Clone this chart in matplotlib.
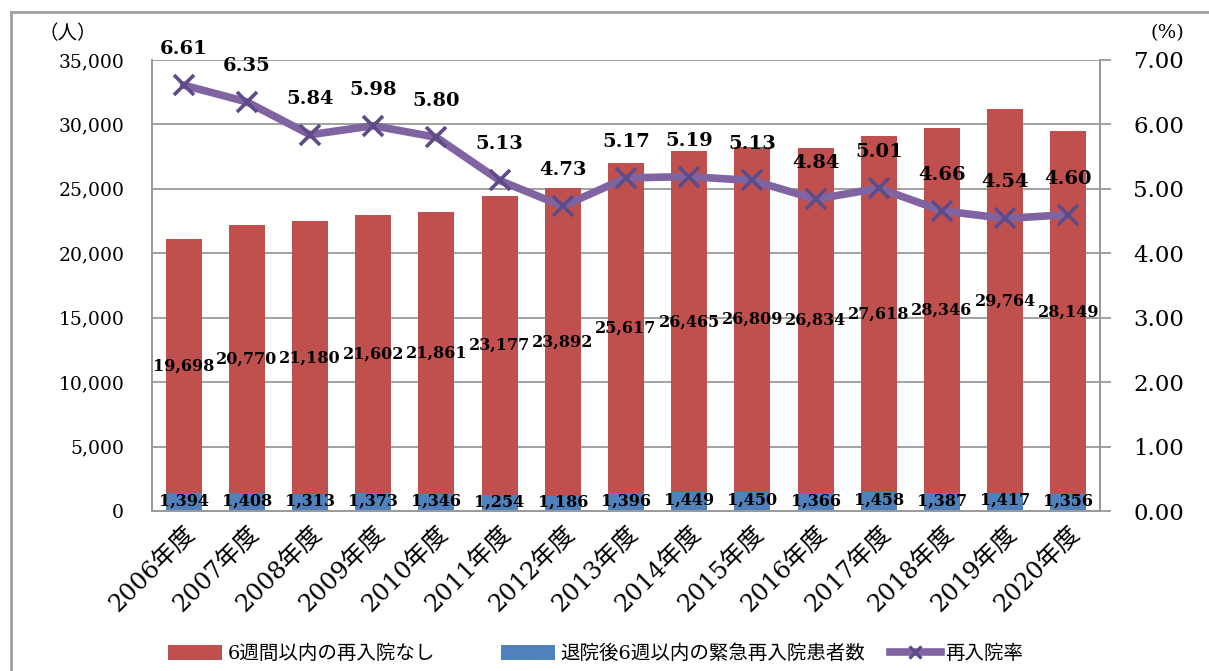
import matplotlib
matplotlib.use("Agg")
import matplotlib.pyplot as plt
from matplotlib.lines import Line2D
from matplotlib.patches import Patch
import numpy as np

years = ["2006年度", "2007年度", "2008年度", "2009年度", "2010年度", "2011年度", "2012年度",
         "2013年度", "2014年度", "2015年度", "2016年度", "2017年度", "2018年度", "2019年度", "2020年度"]
no_readmit = [19698, 20770, 21180, 21602, 21861, 23177, 23892, 25617, 26465, 26809,
              26834, 27618, 28346, 29764, 28149]
emergency = [1394, 1408, 1313, 1373, 1346, 1254, 1186, 1396, 1449, 1450,
             1366, 1458, 1387, 1417, 1356]
rate = [6.61, 6.35, 5.84, 5.98, 5.80, 5.13, 4.73, 5.17, 5.19, 5.13, 4.84, 5.01, 4.66, 4.54, 4.60]

left_ticks = [0, 5000, 10000, 15000, 20000, 25000, 30000, 35000]
right_ticks = [0, 1, 2, 3, 4, 5, 6, 7]

legend_labels = ["6週間以内の再入院なし", "退院後6週以内の緊急再入院患者数", "再入院率"]

RED = "#C0504D"
BLUE = "#4F81BD"
PURPLE = "#8064A2"
MARK = "#5E4B87"
GRID = "#9A9A9A"
SERIF = ["DejaVu Serif", "Noto Sans CJK JP"]
JP = ["Noto Sans CJK JP", "DejaVu Serif"]

W, H = 1209, 671
fig = plt.figure(figsize=(W / 100, H / 100), dpi=100)
ax = fig.add_axes([152 / W, 1 - 511 / H, (1100 - 152) / W, (511 - 60) / H])
ax2 = ax.twinx()

x = np.arange(len(years))
bw = 0.57
ax.bar(x, emergency, width=bw, color=BLUE, zorder=2)
ax.bar(x, no_readmit, width=bw, bottom=emergency, color=RED, zorder=2)

ax.set_xlim(-0.5, len(years) - 0.5)
ax.set_ylim(0, 35000)
ax.set_yticks(left_ticks)
ax.set_yticklabels([f"{v:,}" for v in left_ticks], family=SERIF, fontsize=13.5)
ax.yaxis.grid(True, color=GRID, linewidth=1.3, zorder=0)
ax.set_axisbelow(True)
ax.tick_params(axis="y", length=0, pad=20)
ax.set_xticks(x)
ax.set_xticklabels(years, rotation=45, ha="right", va="top", rotation_mode="anchor",
                   family=SERIF, fontsize=17.5)
ax.tick_params(axis="x", length=0, pad=8)

for sp in ["left", "right", "bottom", "top"]:
    ax.spines[sp].set_color(GRID)
    ax.spines[sp].set_linewidth(1.3)
    ax2.spines[sp].set_color(GRID)
    ax2.spines[sp].set_linewidth(1.3)
ax.spines["top"].set_visible(False)
ax2.spines["top"].set_visible(False)

ax2.plot(x, rate, color=PURPLE, linewidth=5.5, solid_capstyle="round", zorder=3)
ax2.plot(x, rate, linestyle="none", marker="x", markersize=15, markeredgewidth=2.6,
         color=MARK, zorder=4)
ax2.set_ylim(0, 7)
ax2.set_yticks(right_ticks)
ax2.set_yticklabels([f"{v:.2f}" for v in right_ticks], family=SERIF, fontsize=16.5)
ax2.tick_params(axis="y", length=8, width=1.3, color=GRID, pad=16)

# data labels
for i in range(len(years)):
    ax2.annotate(f"{rate[i]:.2f}", (x[i], rate[i]), xytext=(0, 26), textcoords="offset points",
                 ha="center", va="center", fontsize=14, fontweight="bold", family=SERIF, zorder=6)
    ax2.text(x[i], emergency[i] / 2 + 100, f"{emergency[i]:,}", transform=ax.transData,
             ha="center", va="center", fontsize=11.5, fontweight="bold", family=SERIF, zorder=6)
    ax2.text(x[i], emergency[i] + no_readmit[i] / 2, f"{no_readmit[i]:,}", transform=ax.transData,
             ha="center", va="center", fontsize=11.5, fontweight="bold", family=SERIF, zorder=6)

# unit labels
fig.text(38 / W, 1 - 34 / H, "（人）", family=JP, fontsize=14, ha="left", va="center")
fig.text(1150 / W, 1 - 33 / H, "(%)", family=SERIF, fontsize=14, ha="left", va="center")

# outer border (left and top only visible)
fig.add_artist(Line2D([11 / W, 11 / W], [0, 1 - 12 / H], transform=fig.transFigure,
                      color="#A0A0A0", linewidth=2))
fig.add_artist(Line2D([11 / W, 1], [1 - 12 / H, 1 - 12 / H], transform=fig.transFigure,
                      color="#A0A0A0", linewidth=2))

# legends
handles = [Patch(facecolor=RED, edgecolor="none"),
           Patch(facecolor=BLUE, edgecolor="none"),
           Line2D([], [], color=PURPLE, linewidth=5.5, marker="x", markersize=9,
                  markeredgewidth=2.4, markeredgecolor=MARK)]
xs = [168, 501, 890]
hl = [2.8, 2.8, 2.6]
for h, lab, xx, l in zip(handles, legend_labels, xs, hl):
    leg = fig.legend([h], [lab], loc="center left", bbox_to_anchor=(xx / W, 1 - 654 / H),
                     frameon=False, borderpad=0, borderaxespad=0, handlelength=l,
                     handleheight=0.75, handletextpad=0.25,
                     prop={"family": SERIF, "size": 14})

fig.savefig("out.png", dpi=100)
